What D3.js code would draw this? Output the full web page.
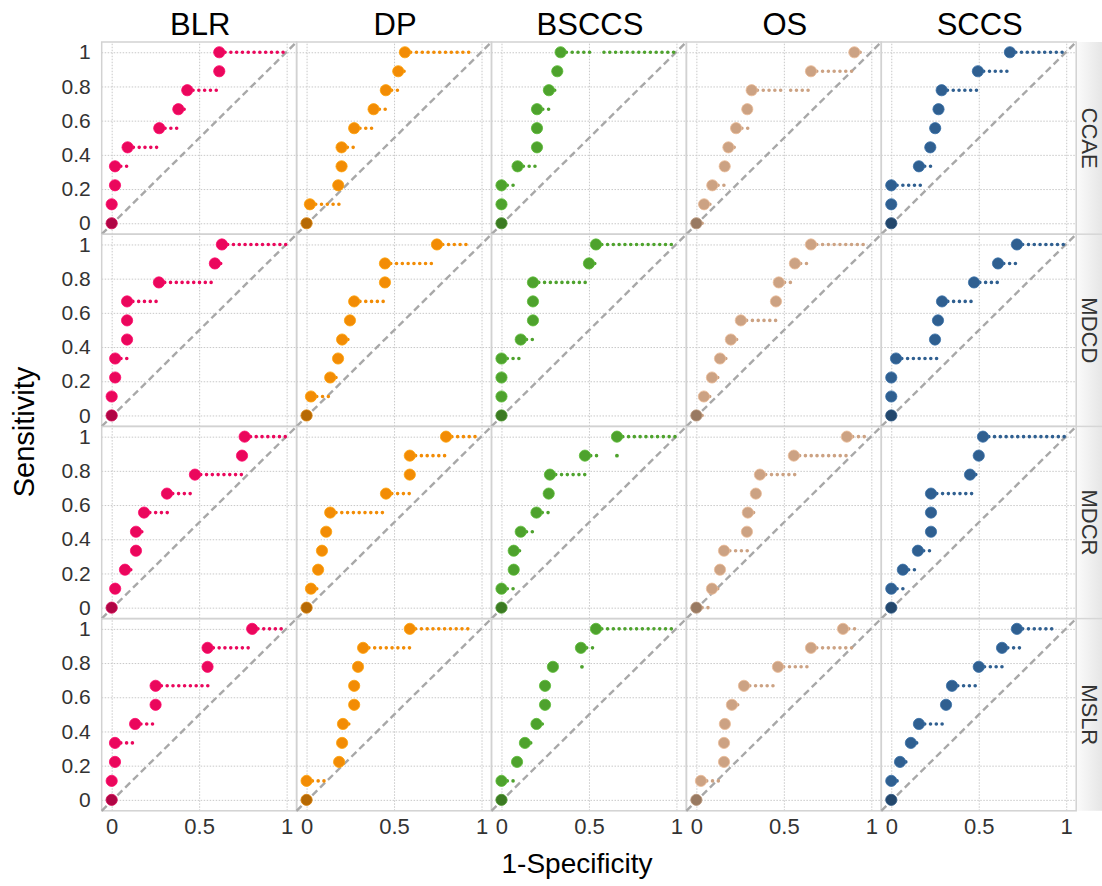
<!DOCTYPE html>
<html><head><meta charset="utf-8">
<script src="https://cdn.jsdelivr.net/npm/d3@7"></script>
<style>body{margin:0;background:#fff;} text{font-family:"Liberation Sans",Arial,sans-serif;}</style>
</head><body><svg id="c" width="1102" height="886"></svg>
<script>
const methods = ["BLR","DP","BSCCS","OS","SCCS"];
const databases = ["CCAE","MDCD","MDCR","MSLR"];
const methodColors = ["#ea075c","#f28c05","#4ea22d","#cca283","#2f5f90"];
const sensitivity = [0,0.111,0.222,0.333,0.444,0.556,0.667,0.778,0.889,1];
const xTicks = [0,0.5,1];
const xTickLabels = ["0","0.5","1"];
const yTicks = [0,0.2,0.4,0.6,0.8,1];
const yTickLabels = ["0","0.2","0.4","0.6","0.8","1"];
const xTitle = "1-Specificity";
const yTitle = "Sensitivity";

// 1-specificity of the large point at each sensitivity level (rows: CCAE, MDCD, MDCR, MSLR)
const pointsBLR = [
  [0,0,0.019,0.019,0.091,0.272,0.381,0.432,0.615,0.615],
  [0,0,0.02,0.02,0.088,0.088,0.088,0.27,0.59,0.63],
  [0,0.02,0.076,0.139,0.139,0.185,0.316,0.476,0.745,0.76],
  [0,0,0.019,0.019,0.134,0.251,0.251,0.548,0.548,0.803]];
const pointsDP = [
  [0,0.019,0.181,0.2,0.2,0.272,0.383,0.453,0.524,0.562],
  [0,0.025,0.135,0.18,0.203,0.248,0.272,0.448,0.448,0.745],
  [0,0.025,0.066,0.088,0.112,0.135,0.454,0.59,0.59,0.797],
  [0,0,0.186,0.203,0.208,0.272,0.272,0.294,0.323,0.59]];
const pointsBSCCS = [
  [0,0,0,0.092,0.203,0.203,0.203,0.271,0.319,0.338],
  [0,0,0,0,0.11,0.18,0.18,0.18,0.5,0.54],
  [0,0,0.07,0.07,0.11,0.2,0.27,0.277,0.477,0.66],
  [0,0,0.089,0.134,0.2,0.249,0.249,0.294,0.454,0.54]];
const pointsOS = [
  [0,0.044,0.091,0.162,0.183,0.227,0.291,0.316,0.655,0.903],
  [0,0.043,0.089,0.135,0.197,0.254,0.455,0.471,0.563,0.655],
  [0,0.089,0.135,0.158,0.289,0.294,0.34,0.363,0.557,0.86],
  [0,0.026,0.158,0.158,0.163,0.203,0.272,0.466,0.655,0.838]];
const pointsSCCS = [
  [0,0,0,0.158,0.223,0.251,0.27,0.288,0.495,0.678],
  [0,0,0,0.027,0.25,0.267,0.29,0.473,0.61,0.718],
  [0,0,0.066,0.152,0.227,0.227,0.227,0.45,0.5,0.524],
  [0,0,0.05,0.112,0.158,0.313,0.347,0.5,0.633,0.718]];

// trailing small points: [level index, from 1-specificity, to 1-specificity]
const tailsBLR = [
  [[3,0.019,0.095],[4,0.091,0.276],[5,0.272,0.387],[6,0.381,0.438],[7,0.432,0.62],[9,0.615,1.0]],
  [[3,0.02,0.09],[6,0.088,0.276],[7,0.27,0.59],[8,0.59,0.63],[9,0.63,1.0]],
  [[1,0.02,0.05],[2,0.076,0.139],[4,0.139,0.19],[5,0.185,0.32],[6,0.316,0.47],[7,0.476,0.76],[9,0.76,1.0]],
  [[3,0.019,0.142],[4,0.134,0.26],[6,0.251,0.557],[8,0.548,0.808],[9,0.803,1.0]]];
const tailsDP = [
  [[1,0.019,0.187],[4,0.2,0.28],[5,0.272,0.39],[6,0.383,0.459],[7,0.453,0.53],[8,0.524,0.566],[9,0.562,0.933]],
  [[1,0.025,0.135],[2,0.135,0.18],[4,0.203,0.25],[6,0.272,0.466],[8,0.448,0.745],[9,0.745,0.934]],
  [[1,0.025,0.066],[5,0.135,0.465],[6,0.454,0.59],[8,0.59,0.8],[9,0.797,0.99]],
  [[1,0,0.11],[4,0.208,0.25],[8,0.323,0.59],[9,0.59,0.945]]];
const tailsBSCCS = [
  [[2,0,0.096],[3,0.092,0.207],[6,0.203,0.277],[7,0.271,0.321],[9,0.338,0.506],[9,0.586,1.0]],
  [[3,0,0.11],[4,0.11,0.18],[7,0.18,0.5],[8,0.5,0.54],[9,0.54,1.0]],
  [[1,0,0.07],[3,0.07,0.11],[4,0.11,0.2],[5,0.2,0.27],[7,0.277,0.477],[8,0.477,0.55],[8,0.66,0.66],[9,0.66,1.0]],
  [[1,0,0.089],[2,0.089,0.12],[3,0.134,0.2],[4,0.2,0.249],[7,0.46,0.46],[8,0.454,0.55],[9,0.54,1.0]]];
const tailsOS = [
  [[0,0,0.048],[1,0.044,0.097],[2,0.091,0.168],[4,0.183,0.23],[5,0.227,0.297],[7,0.316,0.507],[7,0.539,0.661],[8,0.655,0.912],[9,0.903,0.954]],
  [[0,0,0.043],[1,0.043,0.089],[2,0.089,0.135],[3,0.135,0.197],[4,0.197,0.254],[5,0.254,0.455],[7,0.471,0.563],[8,0.563,0.65],[9,0.655,0.963]],
  [[0,0,0.089],[1,0.089,0.135],[3,0.158,0.294],[5,0.294,0.34],[7,0.363,0.563],[8,0.557,0.866],[9,0.86,0.99]],
  [[1,0.026,0.158],[5,0.203,0.26],[6,0.272,0.466],[7,0.466,0.655],[8,0.655,0.917],[9,0.838,0.92]]];
const tailsSCCS = [
  [[2,0,0.168],[3,0.158,0.23],[7,0.288,0.503],[8,0.495,0.688],[9,0.678,1.0]],
  [[3,0.027,0.26],[6,0.29,0.48],[7,0.473,0.62],[8,0.61,0.735],[9,0.718,1.0]],
  [[1,0,0.08],[2,0.066,0.152],[3,0.152,0.227],[6,0.227,0.46],[7,0.45,0.5],[9,0.524,1.0]],
  [[1,0,0.05],[2,0.05,0.112],[3,0.112,0.163],[4,0.158,0.313],[6,0.347,0.507],[7,0.5,0.645],[8,0.633,0.735],[9,0.718,0.93]]];

const allPoints = [pointsBLR,pointsDP,pointsBSCCS,pointsOS,pointsSCCS];
const allTails = [tailsBLR,tailsDP,tailsBSCCS,tailsOS,tailsSCCS];

const svg = d3.select("#c");
svg.append("rect").attr("width",1102).attr("height",886).attr("fill","#fff");

const leftX = 101.7, topY = 42, panelW = 194.9, panelH = 192.2;
const x = d3.scaleLinear().domain([-0.057,1.057]).range([0,panelW]);
const y = d3.scaleLinear().domain([-0.064,1.06]).range([panelH,0]);

const defs = svg.append("defs");
const grad = defs.append("linearGradient").attr("id","strip").attr("x1","0").attr("x2","1");
grad.append("stop").attr("offset","0").attr("stop-color","#fbfbfb");
grad.append("stop").attr("offset","1").attr("stop-color","#e6e6e6");

// row strips
const stripX = leftX + 5*panelW;
svg.append("rect").attr("x",stripX).attr("y",topY).attr("width",1102-stripX).attr("height",4*panelH).attr("fill","url(#strip)");
databases.forEach((db,r)=>{
  const cy = topY + r*panelH + panelH/2;
  svg.append("text").attr("transform",`translate(${stripX+6},${cy}) rotate(90)`)
    .attr("text-anchor","middle").attr("font-size",22).attr("fill","#333").text(db);
  if(r>0) svg.append("line").attr("x1",stripX).attr("x2",1102).attr("y1",topY+r*panelH).attr("y2",topY+r*panelH)
    .attr("stroke","#d6d6d6").attr("stroke-width",1.5);
});

methods.forEach((m,c)=>{
  const color = methodColors[c];
  svg.append("text").attr("x",leftX+c*panelW+panelW/2+1).attr("y",35).attr("text-anchor","middle")
    .attr("font-size",31).attr("fill","#000").text(m);
  databases.forEach((db,r)=>{
    const g = svg.append("g").attr("transform",`translate(${leftX+c*panelW},${topY+r*panelH})`);
    const gx = g.append("g").attr("transform",`translate(0,${panelH})`)
      .call(d3.axisBottom(x).tickValues(xTicks).tickSize(-panelH).tickFormat(""));
    const gy = g.append("g").call(d3.axisLeft(y).tickValues(yTicks).tickSize(-panelW).tickFormat(""));
    [gx,gy].forEach(a=>{a.select(".domain").remove();
      a.selectAll("line").attr("stroke","#c8c8c8").attr("stroke-width",1).attr("stroke-dasharray","1.5,1.5");});
    g.append("rect").attr("width",panelW).attr("height",panelH).attr("fill","none")
      .attr("stroke","#d2d2d2").attr("stroke-width",1.5);
    g.append("line").attr("x1",x(x.domain()[0])).attr("y1",y(y.domain()[0]))
      .attr("x2",x(x.domain()[1])).attr("y2",y(y.domain()[1]))
      .attr("stroke","#a8a8a8").attr("stroke-width",2.4).attr("stroke-dasharray","7,4");
    const tails = allTails[c][r];
    tails.forEach(t=>{
      const yy = y(sensitivity[t[0]]);
      if (t[2]-t[1] < 0.005) {
        g.append("circle").attr("cx",x(t[1])).attr("cy",yy).attr("r",1.9).attr("fill",color);
      } else {
        g.append("line").attr("x1",x(t[1])).attr("x2",x(t[2])).attr("y1",yy).attr("y2",yy)
          .attr("stroke",color).attr("stroke-width",3.6).attr("stroke-linecap","round")
          .attr("stroke-dasharray","0,5.8");
      }
    });
    const pts = allPoints[c][r];
    g.selectAll("circle.big").data(pts).join("circle").attr("class","big")
      .attr("cx",d=>x(d)).attr("cy",(d,i)=>y(sensitivity[i])).attr("r",5.6)
      .attr("fill",(d,i)=> (i===0 && d===0) ? d3.color(color).darker(0.8) : color)
      .attr("stroke",(d,i)=> (i===0 && d===0) ? d3.color(color).darker(0.3) : d3.color(color).brighter(0.4))
      .attr("stroke-width",1).attr("stroke-opacity",0.8);
    if (c===0) {
      const ay = g.append("g").call(d3.axisLeft(y).tickValues(yTicks).tickSize(0).tickPadding(11)
        .tickFormat((d,i)=>yTickLabels[i]));
      ay.select(".domain").remove();
      ay.selectAll("text").attr("font-size",21).attr("fill","#333").attr("font-family",null);
    }
    if (r===databases.length-1) {
      const ax = g.append("g").attr("transform",`translate(0,${panelH})`)
        .call(d3.axisBottom(x).tickValues(xTicks).tickSize(0).tickPadding(8)
        .tickFormat((d,i)=>xTickLabels[i]));
      ax.select(".domain").remove();
      ax.selectAll("text").attr("font-size",22).attr("fill","#333").attr("font-family",null);
    }
  });
});

svg.append("text").attr("x",577).attr("y",873).attr("text-anchor","middle")
  .attr("font-size",28).attr("fill","#000").text(xTitle);
svg.append("text").attr("transform",`translate(34,432) rotate(-90)`).attr("text-anchor","middle")
  .attr("font-size",29).attr("fill","#000").text(yTitle);
</script></body></html>
